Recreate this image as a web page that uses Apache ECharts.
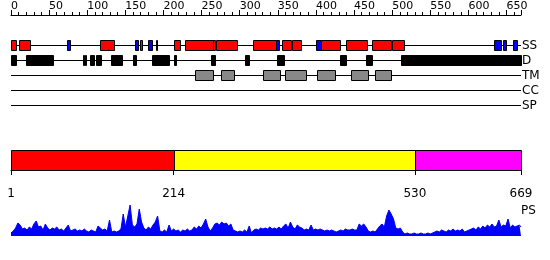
<!DOCTYPE html>
<html><head><meta charset="utf-8">
<script src="https://cdn.jsdelivr.net/npm/echarts@6/dist/echarts.min.js"></script>
<style>html,body{margin:0;padding:0;background:#fff}#c{width:550px;height:260px}</style>
</head><body><div id="c"></div>
<script>
// ---------- data ----------
const SEQ_LENGTH = 669;
const trackNames = ['SS', 'D', 'TM', 'CC', 'SP'];
const ssHelix = [[1,7],[12,25],[118,135],[170,172],[191,192],[215,222],[229,265],[266,267],[270,296],[318,347],[357,367],[370,381],[407,432],[440,467],[474,499],[501,516]];
const ssStrand = [[75,78],[164,167],[181,185],[348,351],[401,406],[635,643],[646,649],[660,664]];
const disorder = [[1,6],[21,55],[95,96],[98,99],[105,109],[112,118],[132,145],[161,164],[186,207],[215,217],[264,267],[308,312],[350,358],[432,440],[467,474],[513,669]];
const transmembrane = [[243,265],[276,293],[332,353],[360,387],[403,425],[447,468],[479,499]];
const coiledCoil = [];
const signalPeptide = [];
const domainStarts = [1, 214, 530];
const domainEnds = [214, 530, 669];
const topTickStep = 50;
const bottomTicks = [1, 214, 530, 669];
const psStep = 3; // residues between profile samples
const psValues = [
  3,5,8,13,11,7,8,6,9,7,
  12,15,9,10,6,12,8,6,8,7,
  9,6,7,5,8,11,5,6,7,5,
  6,5,7,5,4,6,5,4,10,8,
  6,7,5,16,4,5,4,5,7,22,
  9,20,31,11,9,12,27,14,8,6,
  9,7,11,14,20,5,4,6,4,11,
  5,7,5,6,4,6,5,7,5,6,
  9,7,10,8,12,17,9,5,8,12,
  13,11,14,12,13,10,12,6,5,4,
  5,4,6,4,10,3,6,7,6,8,
  7,8,7,9,7,8,7,9,7,10,
  12,8,14,9,7,11,9,8,6,7,
  6,11,6,7,6,7,6,5,6,5,
  6,5,4,5,6,5,7,6,6,7,
  6,6,12,10,12,9,5,4,5,4,
  7,10,12,9,20,26,22,17,8,7,
  8,4,2,3,2,2,3,2,2,3,
  2,2,3,2,3,4,5,4,6,5,
  4,6,5,7,5,6,5,7,4,5,
  6,7,8,6,9,7,10,8,11,9,
  12,9,10,16,9,11,10,17,8,11,
  9,10,11
];
const psLast = 9;

// ---------- styles ----------
const FONT = 'DejaVu Sans';
const featureColors = ['#ff0000', '#0000ff', '#000000', '#888888'];
const domainColors = ['#ff0000', '#ffff00', '#ff00ff'];

// ---------- build ----------
const trackItems = [];
trackNames.forEach((n, t) => trackItems.push([0, t, SEQ_LENGTH, -1]));
function addFeatures(list, track, kind) { list.forEach(([s, e]) => trackItems.push([s, track, e, kind])); }
addFeatures(ssHelix, 0, 0);
addFeatures(ssStrand, 0, 1);
addFeatures(disorder, 1, 2);
addFeatures(transmembrane, 2, 3);
addFeatures(coiledCoil, 3, 0);
addFeatures(signalPeptide, 4, 0);

const domainItems = domainStarts.map((s, i) => [s, domainEnds[i], i]);
const psData = psValues.map((v, i) => [1 + i * psStep, v]);
psData.push([SEQ_LENGTH, psLast]);

function renderTrack(params, api) {
  const s = api.value(0), t = api.value(1), e = api.value(2), k = api.value(3);
  const c0 = api.coord([k < 0 ? s : s - 1, t]);
  const c1 = api.coord([e, t]);
  const yc = Math.floor(c0[1]) + 0.5;
  if (k < 0) {
    return { type: 'line', shape: { x1: c0[0], y1: yc, x2: c1[0], y2: yc }, style: { stroke: '#000', lineWidth: 1 } };
  }
  const x0 = Math.round(c0[0]) + 0.5;
  const x1 = Math.max(Math.round(c1[0]) + 0.5, x0 + 1);
  return { type: 'rect', shape: { x: x0, y: yc - 5, width: x1 - x0, height: 10 },
    style: { fill: featureColors[k], stroke: '#000', lineWidth: 1 } };
}
function renderDomain(params, api) {
  const a = api.coord([api.value(0), 1]);
  const b = api.coord([api.value(1), 0]);
  const x0 = Math.round(a[0]) + 0.5, x1 = Math.round(b[0]) + 0.5;
  const y0 = Math.round(a[1]) + 0.5, y1 = Math.round(b[1]) + 0.5;
  return { type: 'rect', shape: { x: x0, y: y0, width: x1 - x0, height: y1 - y0 },
    style: { fill: domainColors[api.value(2)], stroke: '#000', lineWidth: 1 } };
}

const chart = echarts.init(document.getElementById('c'), null, { renderer: 'canvas' });
chart.setOption({
  animation: false,
  backgroundColor: '#fff',
  grid: [
    { left: 11, width: 510, top: 38, height: 75 },
    { left: 11, width: 510, top: 150, height: 20 },
    { left: 11, width: 510, top: 205, height: 31 }
  ],
  xAxis: [
    { gridIndex: 0, type: 'value', position: 'top', min: 0, max: SEQ_LENGTH, interval: topTickStep, offset: 23,
      splitLine: { show: false },
      axisLine: { show: true, lineStyle: { color: '#000', width: 1 } },
      axisTick: { show: true, length: 5, lineStyle: { color: '#000' } },
      minorTick: { show: true, splitNumber: 5, length: 3, lineStyle: { color: '#000' } },
      axisLabel: { show: true, align: 'left', margin: 3, color: '#000', fontFamily: FONT, fontSize: 11, showMaxLabel: false } },
    { gridIndex: 1, type: 'value', position: 'bottom', min: 1, max: SEQ_LENGTH, offset: 10,
      splitLine: { show: false },
      axisLine: { show: true, lineStyle: { color: '#000', width: 1 } },
      axisTick: { show: true, length: 5, customValues: bottomTicks, lineStyle: { color: '#000' } },
      axisLabel: { show: true, customValues: bottomTicks, margin: 8, color: '#000', fontFamily: FONT, fontSize: 12 } },
    { gridIndex: 2, type: 'value', min: 1, max: SEQ_LENGTH, show: false }
  ],
  yAxis: [
    { gridIndex: 0, type: 'category', data: trackNames, inverse: true, position: 'right',
      axisLine: { show: false }, axisTick: { show: false }, splitLine: { show: false },
      axisLabel: { interval: 0, margin: 1, color: '#000', fontFamily: FONT, fontSize: 12 } },
    { gridIndex: 1, type: 'value', min: 0, max: 1, show: false },
    { gridIndex: 2, type: 'value', min: 0, max: 31, show: false }
  ],
  graphic: [
    { type: 'text', left: 521, top: 205, style: { text: 'PS', fill: '#000', font: '12px "DejaVu Sans"' } }
  ],
  series: [
    { type: 'custom', xAxisIndex: 0, yAxisIndex: 0, renderItem: renderTrack, data: trackItems,
      encode: { x: [0, 2], y: 1 }, clip: false },
    { type: 'custom', xAxisIndex: 1, yAxisIndex: 1, renderItem: renderDomain, data: domainItems,
      encode: { x: [0, 1] } },
    { type: 'line', xAxisIndex: 2, yAxisIndex: 2, data: psData, showSymbol: false, smooth: false,
      lineStyle: { color: '#0000ff', width: 1 }, areaStyle: { color: '#0000ff', opacity: 1 }, itemStyle: { color: '#0000ff' } }
  ]
});
</script>
</body></html>
